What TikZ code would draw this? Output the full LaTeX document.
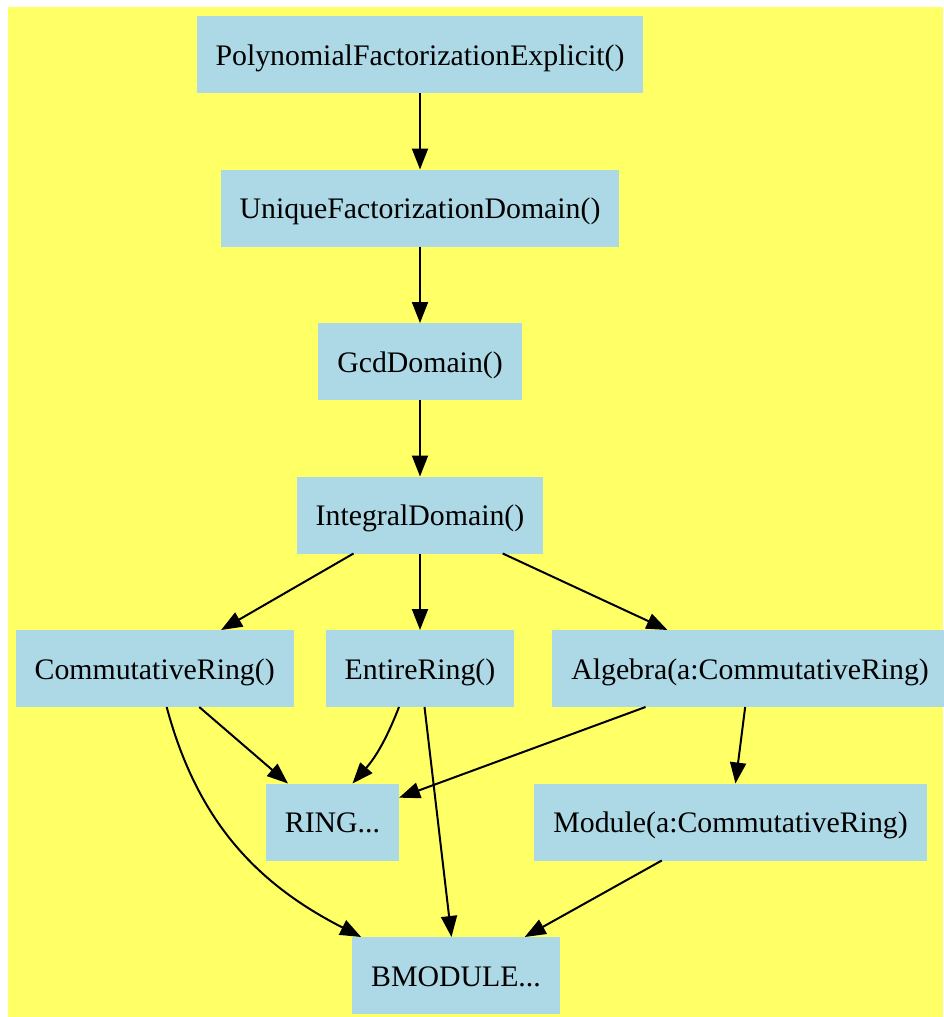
\documentclass[tikz,border=0pt]{standalone}
\usepackage{fontspec}
\setmainfont{Liberation Serif}
\usepackage{tikz}
\usetikzlibrary{arrows.meta,positioning}

\definecolor{bgyellow}{RGB}{255,255,102}
\definecolor{boxblue}{RGB}{173,216,230}

\begin{document}
\begin{tikzpicture}[x=1pt, y=-1pt, node distance=76.5pt,
    >={Triangle[length=21pt,width=16pt]},
    cat/.style={rectangle, fill=boxblue, inner xsep=19pt, inner ysep=0pt, outer sep=0pt,
        minimum height=77pt, text height=24pt, text depth=3pt,
        font=\fontsize{29.8}{35}\selectfont},
    every path/.style={line width=2pt}]
    \useasboundingbox (0,0) rectangle (943,1017);
    \fill [bgyellow] (8,7) rectangle (943,1017);

    \node [cat] (pfe) at (420,54.5) {PolynomialFactorizationExplicit()};
    \node [cat, below=of pfe] (ufd) {UniqueFactorizationDomain()};
    \node [cat, below=of ufd] (gcd) {GcdDomain()};
    \node [cat, below=of gcd] (intdom) {IntegralDomain()};
    \node [cat, below=of intdom] (entire) {EntireRing()};
    \node [cat, left=36pt of entire, xshift=4pt] (commring) {CommutativeRing()};
    \node [cat, right=38pt of entire] (algebra) {Algebra(a:CommutativeRing)};
    \node [cat, below=of entire, xshift=-87.5pt] (ring) {RING...};
    \node [cat, below=of algebra, xshift=-19.5pt] (module) {Module(a:CommutativeRing)};
    \node [cat, below=230pt of entire, xshift=36pt] (bmodule) {BMODULE...};

    \draw [->] (pfe) -- (ufd);
    \draw [->] (ufd) -- (gcd);
    \draw [->] (gcd) -- (intdom);
    \draw [->] (intdom) -- (commring);
    \draw [->] (intdom) -- (entire);
    \draw [->] (intdom) -- (algebra);
    \draw [->] (commring) -- (ring);
    \draw [->] ([xshift=12pt]commring.south) to[out=-75, in=153] ([xshift=9pt]bmodule.north west);
    \draw [->] ([xshift=-21pt]entire.south) to[bend left=10] ([xshift=20pt]ring.north);
    \draw [->] (entire) -- (bmodule);
    \draw [->] (algebra) -- (ring);
    \draw [->] (algebra) -- (module);
    \draw [->] (module) -- (bmodule);
\end{tikzpicture}
\end{document}
